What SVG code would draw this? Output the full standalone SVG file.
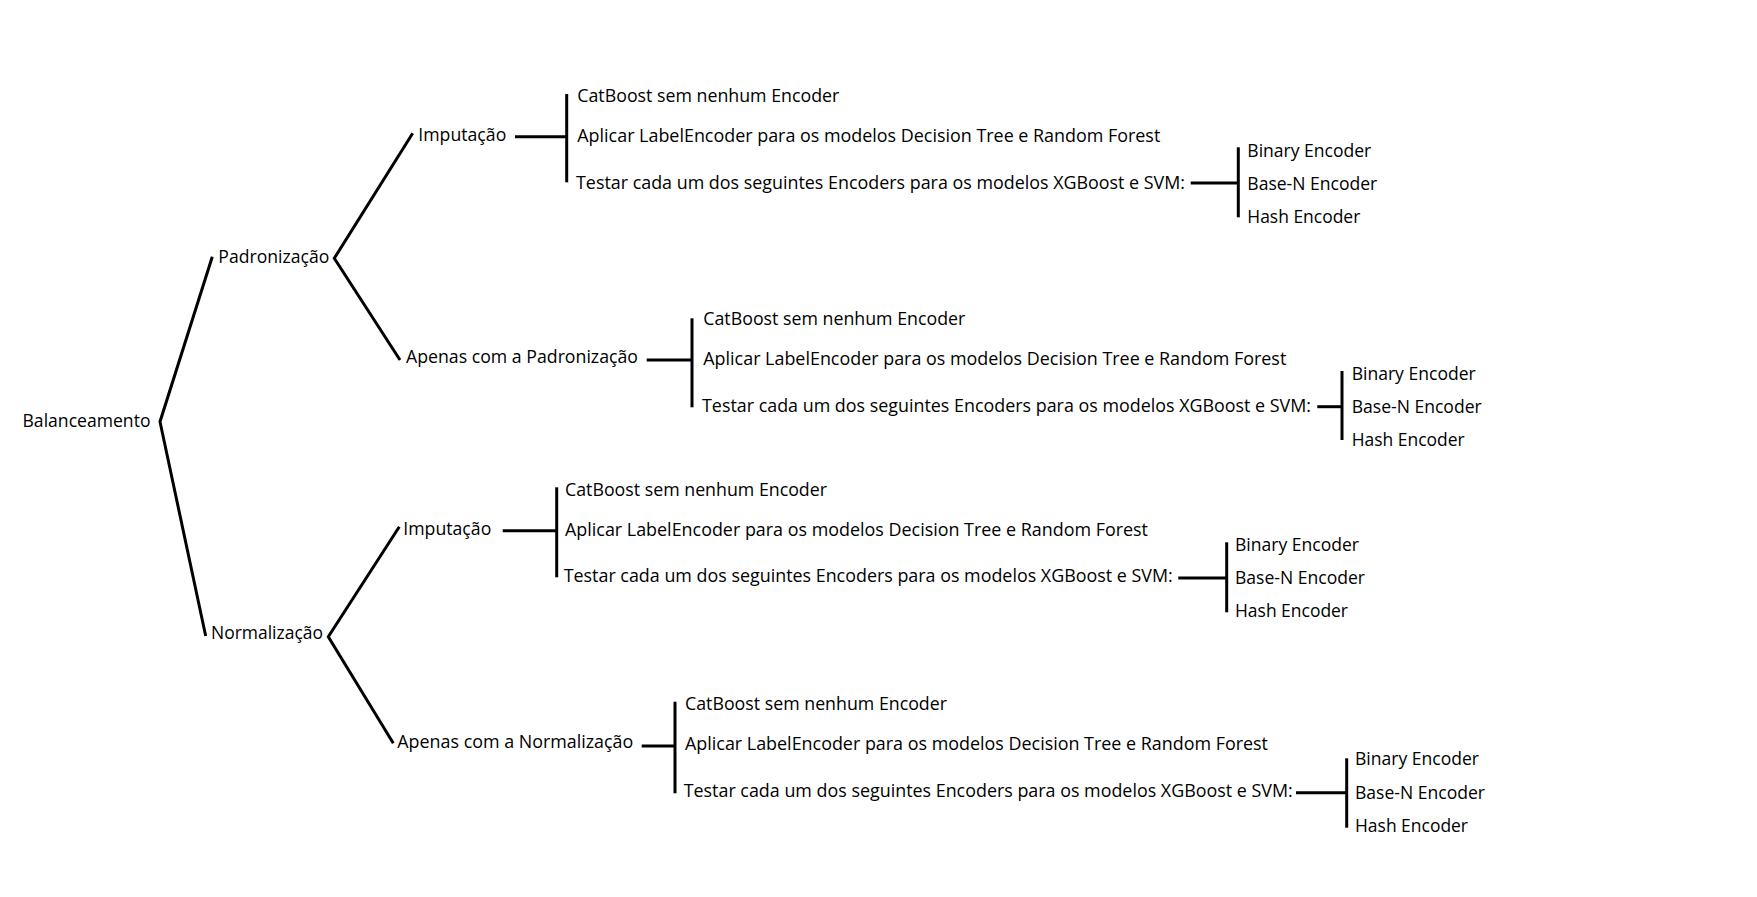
<svg xmlns="http://www.w3.org/2000/svg" width="1757" height="897" viewBox="0 0 1757 897">
<style>
text { font-family: "Open Sans", "Noto Sans", "Liberation Sans", sans-serif; font-size: 18px; fill: #000; }
.c { fill: none; stroke: #000; stroke-width: 3; stroke-linejoin: miter; stroke-linecap: butt; }
</style>
<rect width="1757" height="897" fill="#fff"/>
<g id="connectors">
  <polyline class="c" points="212.3,256.7 160,421.7 205.7,636"/>
  <polyline class="c" points="412.7,133.3 334.3,258.3 400,360"/>
  <polyline class="c" points="399.3,526.7 328.3,636.7 393.3,743.3"/>
  <!-- group 1 -->
  <line class="c" x1="515" y1="136.7" x2="566.7" y2="136.7"/>
  <line class="c" x1="566.7" y1="94" x2="566.7" y2="182.3"/>
  <line class="c" x1="1190.7" y1="183" x2="1238.3" y2="183"/>
  <line class="c" x1="1238.3" y1="147.3" x2="1238.3" y2="217.3"/>
  <!-- group 2 -->
  <line class="c" x1="646.7" y1="360" x2="692" y2="360"/>
  <line class="c" x1="692" y1="318.3" x2="692" y2="407.3"/>
  <line class="c" x1="1317.3" y1="406.7" x2="1342" y2="406.7"/>
  <line class="c" x1="1342" y1="371" x2="1342" y2="440"/>
  <!-- group 3 -->
  <line class="c" x1="502.7" y1="530.7" x2="556.7" y2="530.7"/>
  <line class="c" x1="556.7" y1="487.3" x2="556.7" y2="577.3"/>
  <line class="c" x1="1178.3" y1="578" x2="1226.7" y2="578"/>
  <line class="c" x1="1226.7" y1="542.3" x2="1226.7" y2="612.3"/>
  <!-- group 4 -->
  <line class="c" x1="641.7" y1="746" x2="675" y2="746"/>
  <line class="c" x1="675" y1="701.7" x2="675" y2="793.3"/>
  <line class="c" x1="1296" y1="792.7" x2="1346.7" y2="792.7"/>
  <line class="c" x1="1346.7" y1="758.3" x2="1346.7" y2="827.7"/>
</g>
<g id="balanceamento"><text x="22.5" y="427" textLength="128" lengthAdjust="spacingAndGlyphs">Balanceamento</text></g>
<g id="padronizacao"><text x="218.3" y="263.3" textLength="111" lengthAdjust="spacingAndGlyphs">Padronização</text></g>
<g id="normalizacao"><text x="211" y="639.3" textLength="112" lengthAdjust="spacingAndGlyphs">Normalização</text></g>

<g id="pad-imputacao">
  <text x="418.3" y="140.7" textLength="88" lengthAdjust="spacingAndGlyphs">Imputação</text>
</g>
<g id="pad-imputacao-opcoes">
  <text x="577.3" y="101.7" textLength="262" lengthAdjust="spacingAndGlyphs">CatBoost sem nenhum Encoder</text>
  <text x="577.3" y="142" textLength="583" lengthAdjust="spacingAndGlyphs">Aplicar LabelEncoder para os modelos Decision Tree e Random Forest</text>
  <text x="576" y="188.5" textLength="609" lengthAdjust="spacingAndGlyphs">Testar cada um dos seguintes Encoders para os modelos XGBoost e SVM:</text>
</g>
<g id="pad-imputacao-encoders">
  <text x="1247.3" y="156.7" textLength="124" lengthAdjust="spacingAndGlyphs">Binary Encoder</text>
  <text x="1247.3" y="190" textLength="130" lengthAdjust="spacingAndGlyphs">Base-N Encoder</text>
  <text x="1247.3" y="223.3" textLength="113" lengthAdjust="spacingAndGlyphs">Hash Encoder</text>
</g>

<g id="pad-apenas">
  <text x="406" y="363.3" textLength="232" lengthAdjust="spacingAndGlyphs">Apenas com a Padronização</text>
</g>
<g id="pad-apenas-opcoes">
  <text x="703.3" y="325" textLength="262" lengthAdjust="spacingAndGlyphs">CatBoost sem nenhum Encoder</text>
  <text x="703.3" y="365.3" textLength="583" lengthAdjust="spacingAndGlyphs">Aplicar LabelEncoder para os modelos Decision Tree e Random Forest</text>
  <text x="702" y="411.8" textLength="609" lengthAdjust="spacingAndGlyphs">Testar cada um dos seguintes Encoders para os modelos XGBoost e SVM:</text>
</g>
<g id="pad-apenas-encoders">
  <text x="1351.7" y="380" textLength="124" lengthAdjust="spacingAndGlyphs">Binary Encoder</text>
  <text x="1351.7" y="413.3" textLength="130" lengthAdjust="spacingAndGlyphs">Base-N Encoder</text>
  <text x="1351.7" y="445.7" textLength="113" lengthAdjust="spacingAndGlyphs">Hash Encoder</text>
</g>

<g id="norm-imputacao">
  <text x="403.3" y="534.7" textLength="88" lengthAdjust="spacingAndGlyphs">Imputação</text>
</g>
<g id="norm-imputacao-opcoes">
  <text x="565" y="496" textLength="262" lengthAdjust="spacingAndGlyphs">CatBoost sem nenhum Encoder</text>
  <text x="565" y="536.3" textLength="583" lengthAdjust="spacingAndGlyphs">Aplicar LabelEncoder para os modelos Decision Tree e Random Forest</text>
  <text x="563.7" y="582" textLength="609" lengthAdjust="spacingAndGlyphs">Testar cada um dos seguintes Encoders para os modelos XGBoost e SVM:</text>
</g>
<g id="norm-imputacao-encoders">
  <text x="1235" y="551" textLength="124" lengthAdjust="spacingAndGlyphs">Binary Encoder</text>
  <text x="1235" y="584.3" textLength="130" lengthAdjust="spacingAndGlyphs">Base-N Encoder</text>
  <text x="1235" y="616.7" textLength="113" lengthAdjust="spacingAndGlyphs">Hash Encoder</text>
</g>

<g id="norm-apenas">
  <text x="397.3" y="748.3" textLength="236" lengthAdjust="spacingAndGlyphs">Apenas com a Normalização</text>
</g>
<g id="norm-apenas-opcoes">
  <text x="685" y="710" textLength="262" lengthAdjust="spacingAndGlyphs">CatBoost sem nenhum Encoder</text>
  <text x="685" y="750.3" textLength="583" lengthAdjust="spacingAndGlyphs">Aplicar LabelEncoder para os modelos Decision Tree e Random Forest</text>
  <text x="683.7" y="797.3" textLength="609" lengthAdjust="spacingAndGlyphs">Testar cada um dos seguintes Encoders para os modelos XGBoost e SVM:</text>
</g>
<g id="norm-apenas-encoders">
  <text x="1355" y="765" textLength="124" lengthAdjust="spacingAndGlyphs">Binary Encoder</text>
  <text x="1355" y="799.3" textLength="130" lengthAdjust="spacingAndGlyphs">Base-N Encoder</text>
  <text x="1355" y="831.7" textLength="113" lengthAdjust="spacingAndGlyphs">Hash Encoder</text>
</g>
</svg>
